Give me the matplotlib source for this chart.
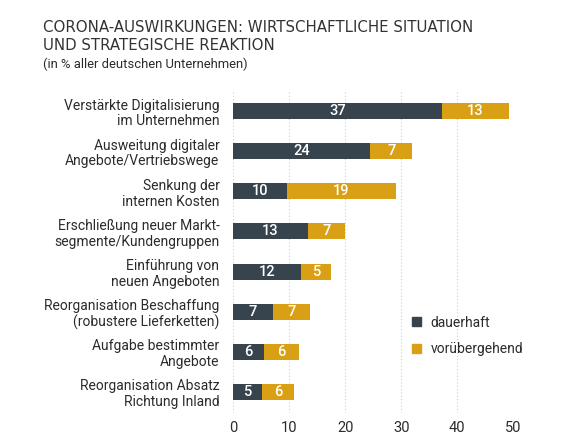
import matplotlib
matplotlib.use("Agg")
import matplotlib.pyplot as plt
from matplotlib.patches import Rectangle

plt.rcParams['font.family'] = ['Roboto', 'DejaVu Sans']

categories = [
    "Verstärkte Digitalisierung\nim Unternehmen",
    "Ausweitung digitaler\nAngebote/Vertriebswege",
    "Senkung der\ninternen Kosten",
    "Erschließung neuer Markt-\nsegmente/Kundengruppen",
    "Einführung von\nneuen Angeboten",
    "Reorganisation Beschaffung\n(robustere Lieferketten)",
    "Aufgabe bestimmter\nAngebote",
    "Reorganisation Absatz\nRichtung Inland",
]
dauerhaft = [37.3, 24.5, 9.6, 13.3, 12.1, 7.1, 5.5, 5.1]
voruebergehend = [11.9, 7.4, 19.4, 6.6, 5.3, 6.6, 6.2, 5.7]
label_dauerhaft = ["37", "24", "10", "13", "12", "7", "6", "5"]
label_voruebergehend = ["13", "7", "19", "7", "5", "7", "6", "6"]
xticks = [0, 10, 20, 30, 40, 50]

c_dark = "#37444e"
c_gold = "#d9a016"
txt = "#2b2b2b"

fig = plt.figure(figsize=(5.70, 4.47), dpi=100)
ax = fig.add_axes([0.4093, 0.0761, 0.4912, 0.7226])

y = list(range(len(categories)))
ax.barh(y, dauerhaft, height=0.4, color=c_dark, zorder=3)
ax.barh(y, voruebergehend, left=dauerhaft, height=0.4, color=c_gold, zorder=3)

for i in y:
    ax.text(dauerhaft[i] / 2, i, label_dauerhaft[i], ha='center', va='center',
            color='white', fontsize=10.5, fontweight='medium', zorder=4)
    ax.text(dauerhaft[i] + voruebergehend[i] / 2, i, label_voruebergehend[i],
            ha='center', va='center', color='white', fontsize=10.5,
            fontweight='medium', zorder=4)

ax.set_xlim(0, 50)
ax.set_ylim(7.53, -0.53)
ax.set_xticks(xticks)
ax.set_xticklabels([str(t) for t in xticks], fontsize=10.5, color=txt)
ax.set_yticks(y)
ax.set_yticklabels(categories, fontsize=10, color=txt, linespacing=1.15)
ax.tick_params(axis='x', length=0, pad=6)
ax.tick_params(axis='y', length=0, pad=10)
for s in ax.spines.values():
    s.set_visible(False)
ax.xaxis.grid(True, color="#cccccc", linestyle=(0, (1, 2)), linewidth=0.8, zorder=0)
ax.set_axisbelow(True)

# legend
handles = [Rectangle((0, 0), 1, 1, color=c_dark), Rectangle((0, 0), 1, 1, color=c_gold)]
leg = fig.legend(handles, ["dauerhaft", "vorübergehend"], loc='upper left',
                 bbox_to_anchor=(0.7225, 0.294), frameon=False, fontsize=10,
                 handlelength=0.65, handleheight=0.65, labelspacing=0.9,
                 handletextpad=0.7, borderaxespad=0, borderpad=0)
for t in leg.get_texts():
    t.set_color(txt)

fig.text(0.075, 1 - 27 / 447, "CORONA-AUSWIRKUNGEN: WIRTSCHAFTLICHE SITUATION",
         fontsize=10.8, color="#333333", family='DejaVu Sans', va='center', ha='left')
fig.text(0.075, 1 - 45 / 447, "UND STRATEGISCHE REAKTION",
         fontsize=10.8, color="#333333", family='DejaVu Sans', va='center', ha='left')
fig.text(0.075, 1 - 64 / 447, "(in % aller deutschen Unternehmen)", fontsize=9.4,
         color=txt, va='center', ha='left')

fig.savefig("out.png", dpi=100)
